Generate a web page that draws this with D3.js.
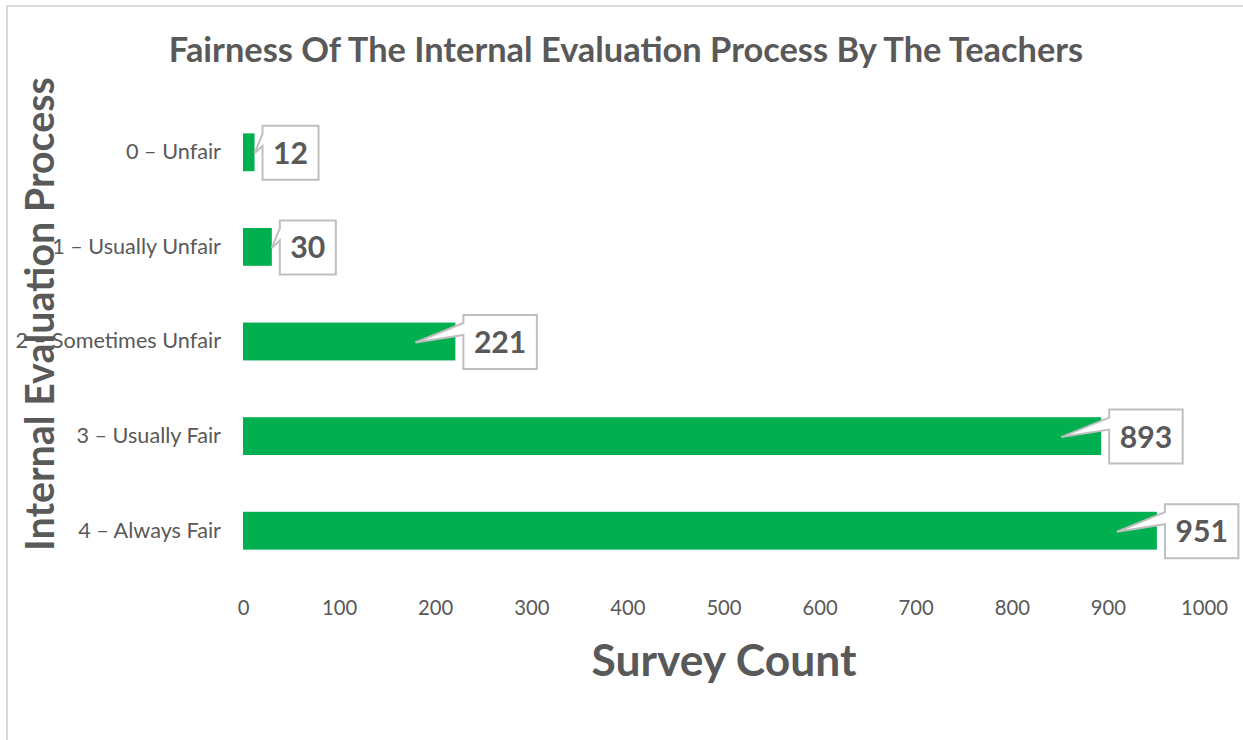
<!DOCTYPE html>
<html>
<head>
<meta charset="utf-8">
<script src="https://cdn.jsdelivr.net/npm/d3@7"></script>
<style>
  html, body { margin: 0; padding: 0; background: #fff; }
  svg { display: block; }
</style>
</head>
<body>
<svg id="chart" width="1243" height="740"></svg>
<script>
const categories = ["0 – Unfair", "1 – Usually Unfair", "2 – Sometimes Unfair", "3 – Usually Fair", "4 – Always Fair"];
const counts = [12, 30, 221, 893, 951];
const xTicks = [0, 100, 200, 300, 400, 500, 600, 700, 800, 900, 1000];
const chartTitle = "Fairness Of The Internal Evaluation Process By The Teachers";
const xTitle = "Survey Count";
const yTitle = "Internal Evaluation Process";

const FONT = "Lato, 'Open Sans', sans-serif";
const TEXT = "#595959";
const GREEN = "#00B050";

const svg = d3.select("#chart");

// fit a text element's font size so its rendered length matches a target width
function fit(sel, base, target) {
  sel.attr("font-size", base);
  const w = sel.node().getComputedTextLength();
  const s = base * target / w;
  sel.attr("font-size", s);
  return s;
}

// outer chart border
svg.append("rect").attr("x", 7).attr("y", 6).attr("width", 1400).attr("height", 900)
  .attr("fill", "#fff").attr("stroke", "#d9d9d9").attr("stroke-width", 2);

const x = d3.scaleLinear().domain([0, 1000]).range([243, 1204]);
const y = d3.scaleBand().domain(categories).range([105, 578]).paddingInner(0.6).paddingOuter(0.3);

// title
const title = svg.append("text").attr("x", 626).attr("y", 62).attr("text-anchor", "middle")
  .attr("font-family", FONT).attr("font-weight", 700)
  .attr("fill", TEXT).text(chartTitle);
fit(title, 29, 915);

// x axis (labels only)
const xAxis = d3.axisBottom(x).tickValues(xTicks).tickFormat(d3.format("d")).tickSize(0).tickPadding(0);
const gx = svg.append("g").attr("transform", "translate(0,601)").call(xAxis);
gx.select(".domain").remove();
gx.selectAll("text").attr("font-family", FONT).attr("fill", TEXT).attr("dy", "0.71em");
const lastTick = gx.selectAll("text").filter(d => d === 1000);
const tickSize = fit(lastTick, 19, 47);
gx.selectAll("text").attr("font-size", tickSize);

// y axis (labels only)
const yAxis = d3.axisLeft(y).tickSize(0).tickPadding(0);
const gy = svg.append("g").attr("transform", "translate(221,0)").call(yAxis);
gy.select(".domain").remove();
gy.selectAll("text").attr("font-family", FONT).attr("fill", TEXT);
const lastCat = gy.selectAll("text").filter(d => d === categories[4]);
const catSize = fit(lastCat, 19, 143);
gy.selectAll("text").attr("font-size", catSize);

// axis titles
const xt = svg.append("text").attr("x", 724).attr("y", 676).attr("text-anchor", "middle")
  .attr("font-family", FONT).attr("font-weight", 700)
  .attr("fill", TEXT).text(xTitle);
fit(xt, 39, 265);

const yt = svg.append("text").attr("transform", "translate(54,314) rotate(-90)").attr("text-anchor", "middle")
  .attr("font-family", FONT).attr("font-weight", 700)
  .attr("fill", TEXT).text(yTitle);
fit(yt, 37, 474);

// bars
svg.append("g").selectAll("rect").data(counts).join("rect")
  .attr("x", x(0))
  .attr("y", (d, i) => y(categories[i]))
  .attr("width", d => x(d) - x(0))
  .attr("height", y.bandwidth())
  .attr("fill", GREEN);

// callout data labels
const probe = svg.append("text").attr("font-family", FONT).attr("font-weight", 700).text("12");
const labelSize = fit(probe, 31, 35);
probe.remove();

const labels = svg.append("g");
counts.forEach((d, i) => {
  const end = x(d);
  const cy = y(categories[i]) + y.bandwidth() / 2;
  const g = labels.append("g");
  const path = g.append("path");
  const t = g.append("text").attr("font-family", FONT).attr("font-weight", 700)
    .attr("font-size", labelSize).attr("fill", TEXT).attr("text-anchor", "middle").text(d);
  const tw = t.node().getComputedTextLength();
  const bw = tw + 21, bh = 54;
  const left = end + 8, top = cy - bh / 2 + 0.5;
  const tipX = (end - 40 > x(0)) ? end - 40 : end;
  const tipY = cy + 1;
  const p = d3.path();
  p.moveTo(left, top);
  p.lineTo(left + bw, top);
  p.lineTo(left + bw, top + bh);
  p.lineTo(left, top + bh);
  p.lineTo(left, top + 20);
  p.lineTo(tipX, tipY);
  p.lineTo(left, top + 8);
  p.closePath();
  path.attr("d", p.toString()).attr("fill", "#fff").attr("stroke", "#bfbfbf").attr("stroke-width", 2)
    .attr("stroke-linejoin", "miter");
  t.attr("x", left + bw / 2).attr("y", top + bh / 2 + 11);
});
</script>
</body>
</html>
